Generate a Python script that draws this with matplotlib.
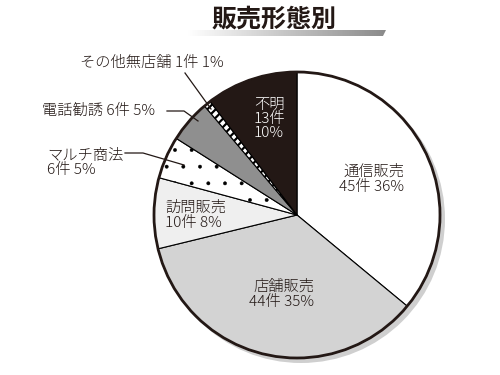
import matplotlib
matplotlib.use("Agg")
import matplotlib.pyplot as plt
import numpy as np
from matplotlib.patches import Circle, Polygon

plt.rcParams['font.family'] = ['Noto Sans CJK JP', 'DejaVu Sans']
plt.rcParams['hatch.linewidth'] = 1.6

categories = ['通信販売', '店舗販売', '訪問販売', 'マルチ商法', '電話勧誘', 'その他無店舗', '不明']
counts = [45, 44, 10, 6, 6, 1, 13]
percents = [36, 35, 8, 5, 5, 1, 10]
colors = ['#ffffff', '#d3d3d3', '#efefef', '#ffffff', '#8f8f8f', '#ffffff', '#231815']
hatches = [None, None, None, '.', None, '////', None]
title = '販売形態別'

W, H = 500, 375
fig = plt.figure(figsize=(5, 3.75), dpi=100)
ax = fig.add_axes([0, 0, 1, 1])
ax.set_xlim(0, W)
ax.set_ylim(0, H)
ax.set_aspect('equal')
ax.axis('off')

def P(x, y):
    return (x, H - y)

cx, cy = P(297, 215)
R = 143

# shadow
ax.add_patch(Circle((cx + 4, cy - 4), R + 1, facecolor='#cfcfcf', edgecolor='none', zorder=0))

wedges, _ = ax.pie(counts, center=(cx, cy), radius=R, startangle=90, counterclock=False,
                   colors=colors, wedgeprops=dict(edgecolor='black', linewidth=0.8),
                   frame=True)
for w, h in zip(wedges, hatches):
    if h:
        w.set_hatch(h)
        if h == '.' and hasattr(w, 'set_hatch_linewidth'):
            w.set_hatch_linewidth(0.3)
ax.set_xlim(0, W)
ax.set_ylim(0, H)
ax.axis('off')
ax.add_patch(Circle((cx, cy), R, facecolor='none', edgecolor='#231815', linewidth=2.0, zorder=5))

fs = 11
fw = 'light'
def lab(i):
    return f'{counts[i]}件 {percents[i]}%'

# inside labels
ax.text(*P(404, 179), f'{categories[0]}\n{lab(0)}', ha='right', va='center', fontsize=fs,
        fontweight=fw, linespacing=1.05, color='#231815')
ax.text(*P(314, 294), f'{categories[1]}\n{lab(1)}', ha='right', va='center', fontsize=fs,
        fontweight=fw, linespacing=1.05, color='#231815')
ax.text(*P(165, 215), f'{categories[2]}\n{lab(2)}', ha='left', va='center', fontsize=fs,
        fontweight=fw, linespacing=1.05, color='#231815')
ax.text(*P(254, 119), f'{categories[6]}\n{counts[6]}件\n{percents[6]}%', ha='left', va='center',
        fontsize=fs, fontweight=fw, linespacing=1.0, color='white')

# outside labels
ax.text(*P(80, 63), f'{categories[5]} {lab(5)}', ha='left', va='center', fontsize=fs,
        fontweight=fw, color='#231815')
ax.text(*P(42, 111), f'{categories[4]} {lab(4)}', ha='left', va='center', fontsize=fs,
        fontweight=fw, color='#231815')
ax.text(*P(47, 163), f'{categories[3]}\n{lab(3)}', ha='left', va='center', fontsize=fs,
        fontweight=fw, linespacing=1.05, color='#231815')

lc = '#231815'
for pts in [[(185, 73), (211, 109)],
            [(167, 111), (184, 111), (198, 121)],
            [(125, 153), (143, 153), (184, 165)]]:
    xs, ys = zip(*[P(*p) for p in pts])
    ax.plot(xs, ys, color=lc, lw=0.9, zorder=6)

# title underline gradient bar
grad = np.linspace(0, 1, 256).reshape(1, -1)
cmap = matplotlib.colors.LinearSegmentedColormap.from_list('g', ['#ffffff', '#8a8a8a'])
bar = ax.imshow(grad, extent=(188, 386, H - 36, H - 30), cmap=cmap, aspect='auto', zorder=1)
clip = Polygon([P(188, 30), P(386, 30), P(383, 36), P(188, 36)], closed=True, transform=ax.transData)
bar.set_clip_path(clip)
ax.text(*P(274, 20), title, ha='center', va='center', fontsize=18, fontweight='bold',
        color='#231815', zorder=3)

fig.savefig('out.png', dpi=100)
